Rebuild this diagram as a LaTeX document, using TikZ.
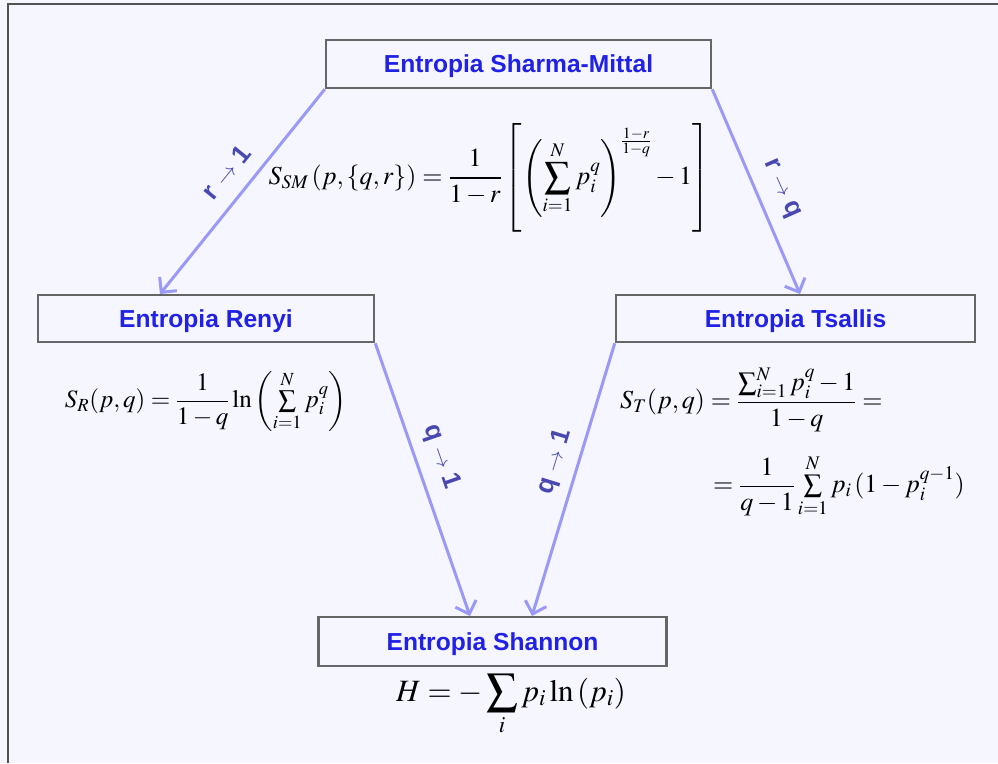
\documentclass[tikz,border=0pt]{standalone}
\usepackage{amsmath}
\usepackage{mathptmx}
\usepackage{fontspec}
\setsansfont{Liberation Sans}
\usetikzlibrary{arrows.meta}
\definecolor{bg}{HTML}{F5F6FF}
\definecolor{tblue}{HTML}{2121E6}
\definecolor{arr}{HTML}{9A9AF6}
\definecolor{lbl}{HTML}{4848B0}
\definecolor{frm}{HTML}{666666}
\tikzset{
 box/.style={draw=frm, line width=2.5pt, fill=bg, inner sep=0pt, text height=17.6pt, text depth=0pt, font=\fontsize{24.6}{29}\selectfont\sffamily\bfseries, text=tblue},
 conn/.style={draw=arr, line width=3pt, -{Straight Barb[length=11pt,width=22pt,line width=3pt]}},
 lab/.style={font=\fontsize{26}{30}\selectfont\sffamily\bfseries, text=lbl, inner sep=0pt},
 formula/.style={font=\fontsize{26}{31}\selectfont, inner sep=0pt}
}
\begin{document}
\begin{tikzpicture}[x=1pt,y=-1pt]
\useasboundingbox (0,0) rectangle (998,763);
\fill[bg] (0,0) rectangle (998,763);
\draw[line width=2pt, draw=frm!80!black] (8,763) -- (8,4) -- (998,4);

\node[box, minimum width=385pt, minimum height=48pt] (sm) at (518.5,64) {Entropia Sharma-Mittal};
\node[box, minimum width=336pt, minimum height=47pt] (re) at (206,318.5) {Entropia Renyi};
\node[box, minimum width=359pt, minimum height=47pt] (ts) at (795.5,318.5) {Entropia Tsallis};
\node[box, minimum width=348pt, minimum height=49pt] (sh) at (492.5,641.5) {Entropia Shannon};

\coordinate (e1) at (160,294);
\coordinate (e2) at (800,294);
\coordinate (e3) at (470,616);
\coordinate (e4) at (532,616);

\draw[conn] (sm.south west) -- (e1);
\draw[conn] (sm.south east) -- (e2);
\draw[conn] (re.south east) -- (e3);
\draw[conn] (ts.south west) -- (e4);

\node[lab, rotate=51] (l1) at (226,172) {r {\mdseries\fontsize{22}{22}\selectfont$\rightarrow$} 1};
\node[lab, rotate=-66] (l2) at (781,189) {r {\mdseries\fontsize{22}{22}\selectfont$\rightarrow$} q};
\node[lab, rotate=-71] (l3) at (441,457) {q {\mdseries\fontsize{22}{22}\selectfont$\rightarrow$} 1};
\node[lab, rotate=73] (l4) at (555,462) {q {\mdseries\fontsize{22}{22}\selectfont$\rightarrow$} 1};

\node[formula] (fsm) at (489,178) {$\displaystyle S_{SM}\left(p,\{q,r\}\right)=\frac{1}{1-r}\left[\left(\sum_{i=1}^{N} p_i^{q}\right)^{\frac{1-r}{1-q}}-1\right]$};
\node[formula, font=\fontsize{25}{30}\selectfont] (fre) at (206,401) {$S_R(p,q)=\dfrac{1}{1-q}\ln\left(\sum\limits_{i=1}^{N} p_i^{q}\right)$};
\node[formula, anchor=west] (fts1) at (620,400) {$S_T(p,q)=\dfrac{\sum_{i=1}^{N} p_i^{q}-1}{1-q}=$};
\node[formula, anchor=west] (fts2) at (713,486) {$=\dfrac{1}{q-1}\sum\limits_{i=1}^{N} p_i\,(1-p_i^{q-1})$};
\node[formula, font=\fontsize{31}{36}\selectfont] (fsh) at (511,705) {$\displaystyle H=-\sum_{i} p_i\ln\left(p_i\right)$};
\end{tikzpicture}
\end{document}
